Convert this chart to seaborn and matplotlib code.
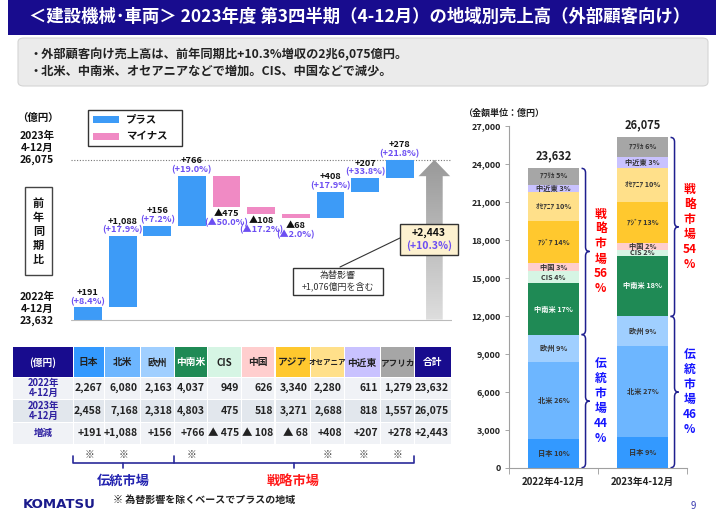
import numpy as np
import pandas as pd
import matplotlib
matplotlib.use('Agg')
import matplotlib.pyplot as plt
import seaborn as sns
from matplotlib.patches import Rectangle, FancyBboxPatch, FancyArrow, PathPatch
from matplotlib.path import Path
from matplotlib.lines import Line2D
from matplotlib.colors import LinearSegmentedColormap
from matplotlib.ticker import FuncFormatter

# --- data (億円) ---
regions = ['日本', '北米', '欧州', '中南米', 'CIS', '中国', 'アジア', 'オセアニア', '中近東', 'アフリカ']
seg_names = ['日本', '北米', '欧州', '中南米', 'CIS', '中国', 'ｱｼﾞｱ', 'ｵｾｱﾆｱ', '中近東', 'ｱﾌﾘｶ']
sales_2022 = [2267, 6080, 2163, 4037, 949, 626, 3340, 2280, 611, 1279]
sales_2023 = [2458, 7168, 2318, 4803, 475, 518, 3271, 2688, 818, 1557]
change = [191, 1088, 156, 766, -475, -108, -68, 408, 207, 278]
change_pct = [8.4, 17.9, 7.2, 19.0, -50.0, -17.2, -2.0, 17.9, 33.8, 21.8]
share_2022 = [10, 26, 9, 17, 4, 3, 14, 10, 3, 5]
share_2023 = [9, 27, 9, 18, 2, 2, 13, 10, 3, 6]
plus_ex_fx = [True, True, False, True, False, False, False, True, True, True]
total_2022 = 23632
total_2023 = 26075
total_change = 2443
total_pct = 10.3
fx_effect = 1076
periods = ['2022年4-12月', '2023年4-12月']
totals = [total_2022, total_2023]
trad_share = [44, 46]
strat_share = [56, 54]
n_trad = 3  # 日本, 北米, 欧州

NAVY = '#180c8e'
PCT = '#6c4ef2'
region_colors = ['#3399ff', '#6db6ff', '#a0cfff', '#1f8a55', '#d6f5e4',
                 '#ffcece', '#ffc82e', '#ffe08a', '#c9c2ff', '#a6a6a6']
header_text = ['#222', '#222', '#222', 'white', '#222', '#222', '#222', '#222', '#222', '#222']

sns.set_theme(style='white')
plt.rcParams['font.family'] = ['Noto Sans CJK JP', 'DejaVu Sans']
plt.rcParams['axes.unicode_minus'] = False

W, H = 725, 515
fig = plt.figure(figsize=(W / 100, H / 100), dpi=100)
fig.patch.set_facecolor('white')


def fx(x):
    return x / W


def fy(y):
    return 1 - y / H


def px_rect(x0, y0, x1, y1, **kw):
    r = Rectangle((fx(x0), fy(y1)), (x1 - x0) / W, (y1 - y0) / H,
                  transform=fig.transFigure, **kw)
    fig.add_artist(r)
    return r


def px_text(x, y, s, **kw):
    kw.setdefault('ha', 'center')
    kw.setdefault('va', 'center')
    return fig.text(fx(x), fy(y), s, **kw)


def px_line(xs, ys, **kw):
    fig.add_artist(Line2D([fx(x) for x in xs], [fy(y) for y in ys],
                          transform=fig.transFigure, **kw))


# title + bullet box
px_rect(8, 0, 716, 35, facecolor=NAVY, edgecolor='none')
px_text(360, 17, '＜建設機械･車両＞ 2023年度 第3四半期（4-12月）の地域別売上高（外部顧客向け）',
        color='white', fontsize=12.5, fontweight='bold')
box = FancyBboxPatch((fx(18), fy(86)), 690 / W, 48 / H,
                     boxstyle='round,pad=0,rounding_size=0.008', transform=fig.transFigure,
                     facecolor='#ebebeb', edgecolor='#d4d4d4', lw=0.8)
fig.add_artist(box)
px_text(30, 55, '・外部顧客向け売上高は、前年同期比+10.3%増収の2兆6,075億円。', ha='left',
        fontsize=8.8, fontweight='bold', color='#222')
px_text(30, 71, '・北米、中南米、オセアニアなどで増加。CIS、中国などで減少。', ha='left',
        fontsize=8.8, fontweight='bold', color='#222')

# --- waterfall ---
ax_w = fig.add_axes([fx(70.7), fy(340), 381 / W, 240 / H])
wf = pd.DataFrame({'region': regions, 'change': change})
wf['end'] = total_2022 + wf['change'].cumsum()
wf['start'] = wf['end'] - wf['change']
wf['upper'] = wf[['start', 'end']].max(axis=1)
wf['lower'] = wf[['start', 'end']].min(axis=1)
wf['sign'] = np.where(wf['change'] > 0, 'プラス', 'マイナス')
wf_colors = {'プラス': '#3d9bf7', 'マイナス': '#f08ac4'}

sns.barplot(data=wf, x='region', y='upper', hue='sign', palette=wf_colors, order=regions,
            dodge=False, width=0.8, saturation=1, linewidth=0, errorbar=None,
            legend=False, ax=ax_w)
sns.barplot(data=wf, x='region', y='lower', order=regions, color='white', width=0.8,
            saturation=1, linewidth=0, errorbar=None, ax=ax_w)
ax_w.axis('off')
ax_w.axhline(total_2023, color='#777777', lw=0.8, ls=(0, (1, 1.5)), zorder=0)
ax_w.axhline(total_2022, color='#bbbbbb', lw=0.8, zorder=3)

for i, r in wf.iterrows():
    c, p = change[i], change_pct[i]
    if c > 0:
        ax_w.annotate(f'+{c:,}', (i, r['upper']), xytext=(0, 10.8), textcoords='offset points',
                      ha='center', va='center', fontsize=6.6, fontweight='bold', color='#111')
        ax_w.annotate(f'(+{p:.1f}%)', (i, r['upper']), xytext=(0, 4.2), textcoords='offset points',
                      ha='center', va='center', fontsize=6.6, fontweight='bold', color=PCT)
    else:
        ax_w.annotate(f'▲{-c:,}', (i, r['lower']), xytext=(0, -5), textcoords='offset points',
                      ha='center', va='center', fontsize=6.6, fontweight='bold', color='#111')
        ax_w.annotate(f'(▲{-p:.1f}%)', (i, r['lower']), xytext=(0, -11.5), textcoords='offset points',
                      ha='center', va='center', fontsize=6.6, fontweight='bold', color=PCT)

# total arrow with gradient
arrow = FancyArrow(len(regions), total_2022, 0, total_change, width=0.48, head_width=0.91,
                   head_length=250, length_includes_head=True, facecolor='none',
                   edgecolor='none', transform=ax_w.transData)
ax_w.add_patch(arrow)
grad = np.linspace(0, 1, 256).reshape(-1, 1)
im = ax_w.imshow(grad, extent=[len(regions) - 0.5, len(regions) + 0.5, total_2022, total_2023],
                 origin='lower', aspect='auto', zorder=2,
                 cmap=LinearSegmentedColormap.from_list('g', ['#dedede', '#999999']))
im.set_clip_path(arrow)
ax_w.set_xlim(-0.5, len(regions) + 0.5)
ax_w.set_ylim(23320, 26990)

# left labels
px_text(38, 118, '（億円）', fontsize=7.5, fontweight='bold', color='#111')
px_text(37, 148, f'2023年\n4-12月\n{total_2023:,}', fontsize=7.5, fontweight='bold',
        color='#111', linespacing=1.2)
px_text(37, 309, f'2022年\n4-12月\n{total_2022:,}', fontsize=7.5, fontweight='bold',
        color='#111', linespacing=1.2)
px_rect(25, 187, 52, 275, facecolor='white', edgecolor='#444', lw=1)
px_text(38.5, 231, '前\n年\n同\n期\n比', fontsize=8, fontweight='bold', color='#111',
        linespacing=1.1)

# legend
px_rect(88, 110, 182, 146, facecolor='white', edgecolor='#333', lw=1)
px_rect(93, 116, 119, 123, facecolor=wf_colors['プラス'], edgecolor='none')
px_rect(93, 133, 119, 140, facecolor=wf_colors['マイナス'], edgecolor='none')
px_text(126, 119.5, 'プラス', ha='left', fontsize=7.5, fontweight='bold', color='#111')
px_text(126, 136.5, 'マイナス', ha='left', fontsize=7.5, fontweight='bold', color='#111')

# callouts
px_line([340, 400], [267, 238], color='#333', lw=0.8)
px_rect(400, 224, 458, 255, facecolor='#fdf1d0', edgecolor='#333', lw=1)
px_text(429, 233, f'+{total_change:,}', fontsize=7.5, fontweight='bold', color='#111')
px_text(429, 246, f'(+{total_pct}%)', fontsize=7.5, fontweight='bold', color=PCT)
px_rect(293, 268, 383, 295, facecolor='white', edgecolor='#333', lw=1)
px_text(338, 281.5, f'為替影響\n+{fx_effect:,}億円を含む', fontsize=6.5, color='#333',
        linespacing=1.2)

# --- table ---
col_edges = [13, 74, 105, 141, 175, 208, 242, 276, 311, 345, 381, 415, 452]
row_edges = [347, 378, 400, 423, 445]
headers = ['(億円)'] + regions + ['合計']
h_colors = [NAVY] + region_colors + [NAVY]
h_text = ['white'] + header_text + ['white']
h_size = {'オセアニア': 5.4, 'アフリカ': 6.2}
for k, lab in enumerate(headers):
    x0, x1 = col_edges[k], col_edges[k + 1] - 1.5
    px_rect(x0, row_edges[0], x1, row_edges[1] - 1.5, facecolor=h_colors[k], edgecolor='none')
    px_text((x0 + x1) / 2, (row_edges[0] + row_edges[1]) / 2, lab,
            fontsize=h_size.get(lab, 7), fontweight='bold', color=h_text[k])

row_labels = ['2022年\n4-12月', '2023年\n4-12月', '増減']
row_vals = [sales_2022 + [total_2022], sales_2023 + [total_2023], change + [total_change]]
row_bg = ['#f0f2f6', '#e2e7ed', '#f0f2f6']
for r in range(3):
    y0, y1 = row_edges[r + 1], row_edges[r + 2] - 1.5
    ym = (y0 + y1) / 2
    for k in range(len(headers)):
        px_rect(col_edges[k], y0, col_edges[k + 1] - 1.5, y1, facecolor=row_bg[r], edgecolor='none')
    px_text((col_edges[0] + col_edges[1]) / 2, ym, row_labels[r], fontsize=6.8,
            fontweight='bold', color='#2d1fa0', linespacing=1.05)
    for k, v in enumerate(row_vals[r]):
        if r == 2:
            s = f'+{v:,}' if v > 0 else f'▲ {-v:,}'
        else:
            s = f'{v:,}'
        px_text(col_edges[k + 2] - 3, ym, s, ha='right', fontsize=7.5, fontweight='bold',
                color='#222')

for k, flag in enumerate(plus_ex_fx):
    if flag:
        px_text((col_edges[k + 1] + col_edges[k + 2]) / 2, 455, '※', fontsize=7, color='#444')

bx0, bx1, bx2 = col_edges[1] - 1.5, col_edges[1 + n_trad] - 1.5, col_edges[11] - 1.5
px_line([bx0, bx0, bx2, bx2], [456, 463, 463, 456], color='#2a2a9a', lw=1.2)
px_line([bx1, bx1], [456, 463], color='#2a2a9a', lw=1.2)
px_line([(bx0 + bx1) / 2] * 2, [463, 468], color='#2a2a9a', lw=1.2)
px_line([(bx1 + bx2) / 2] * 2, [463, 468], color='#2a2a9a', lw=1.2)
px_text((bx0 + bx1) / 2, 481, '伝統市場', fontsize=9.5, fontweight='bold', color='#2424b0')
px_text((bx1 + bx2) / 2, 481, '戦略市場', fontsize=9.5, fontweight='bold', color='#ff1a1a')
px_text(113, 500, '※ 為替影響を除くベースでプラスの地域', ha='left', fontsize=7.2,
        fontweight='bold', color='#222')
px_text(23, 504, 'KOMATSU', ha='left', fontsize=9.5, fontweight='heavy',
        family='DejaVu Sans', color='#1a1a8c')
px_text(693, 506, '9', fontsize=7, color='#3b3bb0')

# --- stacked bars ---
ax_s = fig.add_axes([fx(509), fy(467.7), 178 / W, 342 / H])
stack = pd.DataFrame([sales_2022, sales_2023], index=periods, columns=regions)
cum = stack.cumsum(axis=1)
for k in reversed(range(len(regions))):
    sns.barplot(x=periods, y=cum[regions[k]].values, color=region_colors[k], width=0.57,
                saturation=1, linewidth=0, errorbar=None, ax=ax_s)

shares = [share_2022, share_2023]
for j in range(2):
    for k, reg in enumerate(regions):
        yc = cum.iloc[j, k] - stack.iloc[j, k] / 2
        ax_s.text(j, yc, f'{seg_names[k]} {shares[j][k]}%', ha='center', va='center',
                  fontsize=5.2, fontweight='bold',
                  color='white' if reg == '中南米' else '#333')
    ax_s.annotate(f'{totals[j]:,}', (j, cum.iloc[j, -1]), xytext=(0, 9),
                  textcoords='offset points', ha='center', va='center', fontsize=8,
                  fontweight='bold', color='#222')


def brace(ax, x0, y0, y1, w, color):
    ym = (y0 + y1) / 2
    rr = 350
    xm = x0 + w / 2
    verts = [(x0, y0), (xm, y0), (xm, y0 + rr), (xm, ym - rr), (xm, ym), (x0 + w, ym),
             (xm, ym), (xm, ym + rr), (xm, y1 - rr), (xm, y1), (x0, y1)]
    codes = [Path.MOVETO, Path.CURVE3, Path.CURVE3, Path.LINETO, Path.CURVE3, Path.CURVE3,
             Path.CURVE3, Path.CURVE3, Path.LINETO, Path.CURVE3, Path.CURVE3]
    ax.add_patch(PathPatch(Path(verts, codes), facecolor='none', edgecolor=color, lw=1.1,
                           clip_on=False))


for j in range(2):
    trad = cum.iloc[j, n_trad - 1]
    tot = cum.iloc[j, -1]
    brace(ax_s, j + 0.315, 0, trad, 0.09, '#1f1f8f')
    brace(ax_s, j + 0.315, trad, tot, 0.09, '#1f1f8f')
    ax_s.text(j + 0.53, trad / 2, f'伝\n統\n市\n場\n{trad_share[j]}\n%', ha='center', va='center',
              fontsize=8.5, fontweight='bold', color='#1515ff', linespacing=1.2)
    ax_s.text(j + 0.53, (trad + tot) / 2, f'戦\n略\n市\n場\n{strat_share[j]}\n%', ha='center',
              va='center', fontsize=8.5, fontweight='bold', color='#ff0000', linespacing=1.2)

ax_s.set_ylim(0, 27000)
ax_s.set_xlim(-0.5, 1.5)
ax_s.set_yticks(range(0, 27001, 3000))
ax_s.yaxis.set_major_formatter(FuncFormatter(lambda v, p: f'{v:,.0f}'))
ax_s.tick_params(axis='y', left=True, length=3, width=0.6, color='#999', labelsize=6.5,
                 pad=3, labelcolor='#222')
ax_s.set_xticks([0, 1])
ax_s.set_xticklabels(periods)
ax_s.set_xticks([-0.5, 0.5, 1.5], minor=True)
ax_s.tick_params(axis='x', which='major', length=0, labelsize=7, pad=7, labelcolor='#222')
ax_s.tick_params(axis='x', which='minor', bottom=True, length=4, width=0.6, color='#999')
for lbl in ax_s.get_yticklabels() + ax_s.get_xticklabels():
    lbl.set_fontweight('bold')
ax_s.set_xlabel('')
ax_s.set_ylabel('')
sns.despine(ax=ax_s)
for sp in ['left', 'bottom']:
    ax_s.spines[sp].set_color('#a0a0a0')
    ax_s.spines[sp].set_linewidth(0.8)
px_text(463, 113, '（金額単位：億円）', ha='left', fontsize=6.5, fontweight='bold', color='#222')

fig.savefig('out.png', dpi=100)
